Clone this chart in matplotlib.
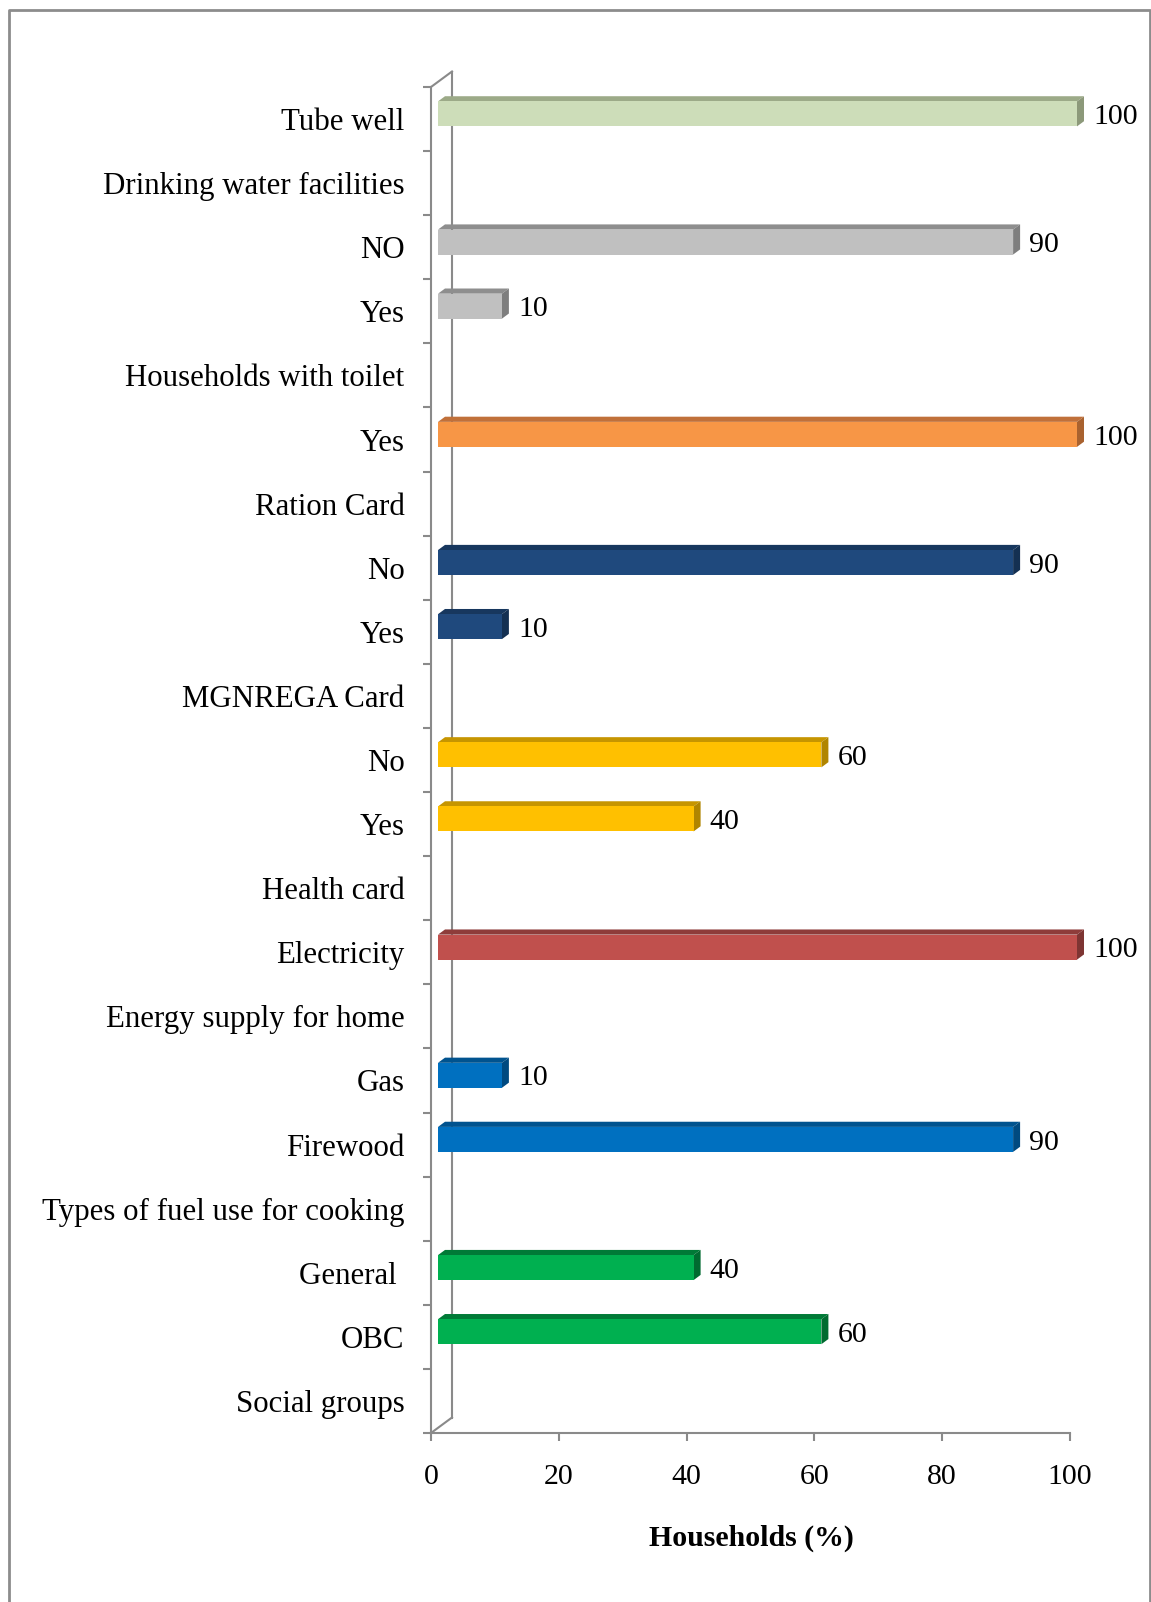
import numpy as np
import matplotlib
matplotlib.use("Agg")
import matplotlib.pyplot as plt
from matplotlib.patches import Polygon
from matplotlib.lines import Line2D
from matplotlib.transforms import ScaledTranslation

plt.rcParams['font.family'] = ['Liberation Serif', 'DejaVu Serif']

# Categories listed bottom to top
categories = [
    "Social groups", "OBC", "General ", "Types of fuel use for cooking",
    "Firewood", "Gas", "Energy supply for home", "Electricity",
    "Health card", "Yes", "No", "MGNREGA Card", "Yes", "No",
    "Ration Card", "Yes", "Households with toilet", "Yes", "NO",
    "Drinking water facilities", "Tube well",
]
# None marks a heading row without a bar
values = [None, 60, 40, None, 90, 10, None, 100, None, 40, 60, None,
          10, 90, None, 100, None, 10, 90, None, 100]
groups = [None, "social", "social", None, "fuel", "fuel", None, "energy",
          None, "mgnrega", "mgnrega", None, "ration", "ration", None,
          "toilet", None, "water", "water", None, "tube"]

# (front, top, side) shades per group
palette = {
    "social":  ("#00B050", "#007A37", "#006B30"),
    "fuel":    ("#0070C0", "#00538F", "#004A80"),
    "energy":  ("#C0504D", "#8E3C3A", "#7E3533"),
    "mgnrega": ("#FFC000", "#C69500", "#B08500"),
    "ration":  ("#1F497D", "#17375E", "#143052"),
    "toilet":  ("#F79646", "#C0703A", "#A9622F"),
    "water":   ("#C0C0C0", "#8E8E8E", "#7E7E7E"),
    "tube":    ("#CDDDB9", "#9CAA88", "#8C997A"),
}

xticks = [0, 20, 40, 60, 80, 100]
axis_grey = "#8A8A8A"
FS = 21.5
FS_CAT = 22.2

W, H = 1151, 1602
fig = plt.figure(figsize=(W / 100, H / 100), dpi=100)
ax = fig.add_axes([431 / W, 169 / H, (1070 - 431) / W, (1433 - 87) / H])
n = len(categories)
ax.set_xlim(0, 100)
ax.set_ylim(0, n)

# depth offsets (pixels) of the 3-D wall and of the bar slab
WALL_DX, WALL_DY = 21.0, 15.5
D1, D2 = 1 / 3, 2 / 3
px_x = ax.bbox.width / 100.0
px_y = ax.bbox.height / n
bar_h = 0.39

front_shift = ScaledTranslation(WALL_DX * D1 / 100, WALL_DY * D1 / 100,
                                fig.dpi_scale_trans)

ypos = np.arange(n) + 0.5
for y, v, g in zip(ypos, values, groups):
    if v is None:
        continue
    front, top, side = palette[g]
    ax.barh(y, v, height=bar_h, color=front, edgecolor="none",
            transform=ax.transData + front_shift, clip_on=False, zorder=3)
    # data-space offsets for the front and back planes of the slab
    fx, fy = WALL_DX * D1 / px_x, WALL_DY * D1 / px_y
    bx, by = WALL_DX * D2 / px_x, WALL_DY * D2 / px_y
    yt, yb = y + bar_h / 2, y - bar_h / 2
    ax.add_patch(Polygon([(fx, yt + fy), (v + fx, yt + fy),
                          (v + bx, yt + by), (bx, yt + by)],
                         closed=True, facecolor=top, edgecolor="none",
                         clip_on=False, zorder=2))
    ax.add_patch(Polygon([(v + fx, yb + fy), (v + fx, yt + fy),
                          (v + bx, yt + by), (v + bx, yb + by)],
                         closed=True, facecolor=side, edgecolor="none",
                         clip_on=False, zorder=2))
    ax.annotate(f"{v}", xy=(v, y), xytext=(23, 2), textcoords="offset pixels",
                ha="left", va="center", fontsize=FS, color="black",
                annotation_clip=False)

# back wall outline
wdx, wdy = WALL_DX / px_x, WALL_DY / px_y
for xs, ys in [([0, wdx], [0, wdy]), ([0, wdx], [n, n + wdy]),
               ([wdx, wdx], [wdy, n + wdy])]:
    ax.add_line(Line2D(xs, ys, color=axis_grey, lw=1.5, clip_on=False,
                       zorder=1))

for s in ["top", "right"]:
    ax.spines[s].set_visible(False)
for s in ["left", "bottom"]:
    ax.spines[s].set_color(axis_grey)
    ax.spines[s].set_linewidth(1.5)

ax.set_yticks(np.arange(n + 1))
ax.set_yticklabels([])
ax.set_yticks(ypos, minor=True)
ax.set_yticklabels(categories, minor=True, fontsize=FS_CAT)
ax.tick_params(axis="y", which="major", length=6, width=1.5,
               color=axis_grey, direction="out")
ax.tick_params(axis="y", which="minor", length=0, pad=19)

ax.set_xticks(xticks)
ax.set_xticklabels([str(t) for t in xticks], fontsize=FS)
ax.tick_params(axis="x", length=6, width=1.5, color=axis_grey, pad=16)

fig.text(751 / W, 1 - 1538 / H, "Households (%)", ha="center", va="center",
         fontsize=FS, fontweight="bold")

# outer frame (left, top, right)
fx0, fx1, fy0 = 9 / W, 1150 / W, 1 - 10 / H
fig.add_artist(Line2D([fx0, fx0, fx1, fx1], [-0.01, fy0, fy0, -0.01],
                      transform=fig.transFigure, color="#8C8C8C", lw=2))

fig.savefig("out.png", dpi=100)
